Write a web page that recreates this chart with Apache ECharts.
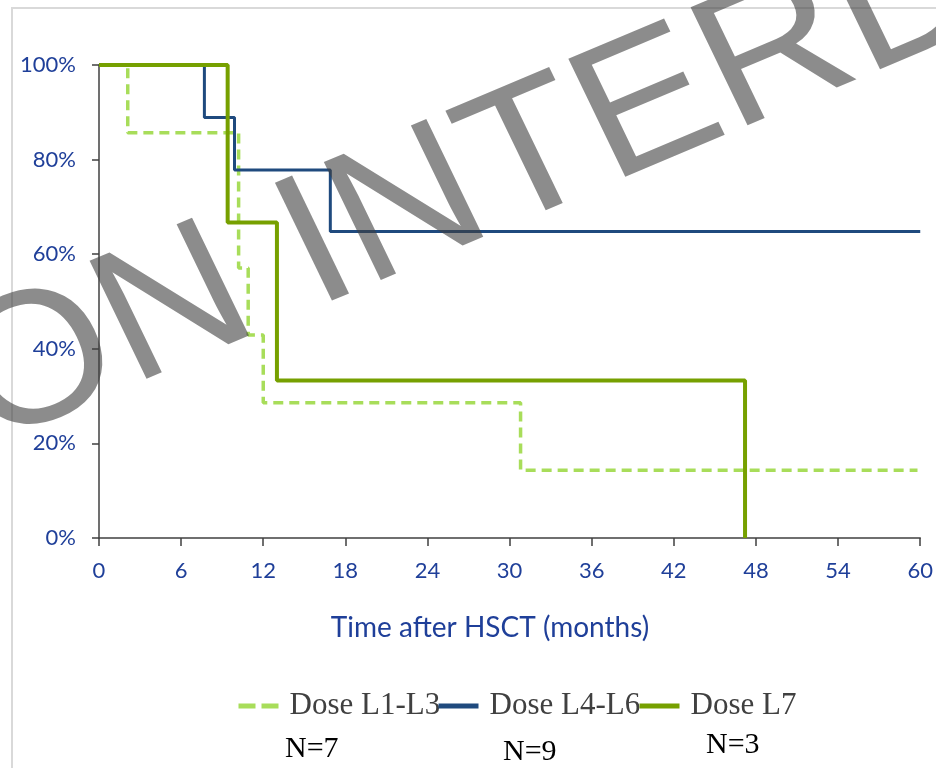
<!DOCTYPE html>
<html>
<head>
<meta charset="utf-8">
<script src="https://cdn.jsdelivr.net/npm/echarts@6/dist/echarts.min.js"></script>
<style>
html,body{margin:0;padding:0;background:#fff;}
#chart{width:936px;height:768px;}
</style>
</head>
<body>
<div id="chart"></div>
<script>
// ---- data ----
var seriesNames = ['Dose L1-L3', 'Dose L4-L6', 'Dose L7'];
var groupN = ['N=7', 'N=9', 'N=3'];
var doseL1L3Times = [0, 2.1, 10.2, 10.9, 12.0, 30.8, 59.8];
var doseL1L3Surv  = [100, 85.7, 57.1, 42.9, 28.6, 14.3, 14.3];
var doseL4L6Times = [0, 7.7, 9.9, 16.9, 60];
var doseL4L6Surv  = [100, 88.9, 77.8, 64.8, 64.8];
var doseL7Times   = [0, 9.4, 13.0, 47.2];
var doseL7Surv    = [100, 66.7, 33.3, 0];
var xTicks = [0, 6, 12, 18, 24, 30, 36, 42, 48, 54, 60];
var yTicks = [0, 20, 40, 60, 80, 100];
var xTitle = 'Time after HSCT (months)';
var watermark = 'ON INTERD';

function pairs(t, s) { return t.map(function (v, i) { return [v, s[i]]; }); }

var axisBlue = '#1f3f99';
var colors = ['#a8dd5a', '#1f4a7e', '#76a000'];

var chart = echarts.init(document.getElementById('chart'), null, {renderer: 'canvas'});

var legendBase = function (name, left, lineType) {
  return {
    data: [name], left: left, top: 688, orient: 'horizontal', padding: 0,
    itemWidth: 40, itemHeight: 14,
    itemStyle: {opacity: 0},
    lineStyle: {width: 5, type: lineType},
    textStyle: {fontFamily: '"Liberation Serif", serif', fontSize: 31, color: '#404040', padding: [0, 0, 0, 6], lineHeight: 36},
    selectedMode: false
  };
};

var theta = 24.3 * Math.PI / 180;

var option = {
  backgroundColor: '#ffffff',
  animation: false,
  grid: {left: 99, right: 15, top: 65, bottom: 230, containLabel: false},
  xAxis: {
    type: 'value', min: xTicks[0], max: xTicks[xTicks.length - 1], interval: 6,
    axisLine: {lineStyle: {color: '#404040', width: 1.5}},
    axisTick: {show: true, inside: false, length: 8, lineStyle: {color: '#404040', width: 1.5}},
    axisLabel: {margin: 22, fontFamily: 'Lato', fontSize: 22, color: axisBlue},
    splitLine: {show: false}
  },
  yAxis: {
    type: 'value', min: yTicks[0], max: yTicks[yTicks.length - 1], interval: 20,
    axisLine: {show: true, lineStyle: {color: '#404040', width: 1.5}},
    axisTick: {show: true, inside: false, length: 7, lineStyle: {color: '#404040', width: 1.5}},
    axisLabel: {margin: 23, fontFamily: 'Lato', fontSize: 22, color: axisBlue, formatter: '{value}%'},
    splitLine: {show: false}
  },
  legend: [
    legendBase(seriesNames[0], 236, [17, 6]),
    legendBase(seriesNames[1], 436, 'solid'),
    legendBase(seriesNames[2], 637, 'solid')
  ],
  series: [
    {name: seriesNames[0], type: 'line', step: 'end', showSymbol: false, symbol: 'none',
     data: pairs(doseL1L3Times, doseL1L3Surv), z: 2,
     lineStyle: {color: colors[0], width: 3.5, type: [10, 6]}, itemStyle: {color: colors[0]}},
    {name: seriesNames[1], type: 'line', step: 'end', showSymbol: false, symbol: 'none',
     data: pairs(doseL4L6Times, doseL4L6Surv), z: 3,
     lineStyle: {color: colors[1], width: 3}, itemStyle: {color: colors[1]}},
    {name: seriesNames[2], type: 'line', step: 'end', showSymbol: false, symbol: 'none',
     data: pairs(doseL7Times, doseL7Surv), z: 4,
     lineStyle: {color: colors[2], width: 4}, itemStyle: {color: colors[2]}}
  ],
  graphic: [
    {type: 'rect', shape: {x: 12, y: 8, width: 1000, height: 1000}, z: -10, silent: true,
     style: {fill: null, stroke: '#d9d9d9', lineWidth: 2}},
    {type: 'text', x: 490, y: 628, silent: true,
     style: {text: xTitle, font: '28px Lato', fill: axisBlue, align: 'center', verticalAlign: 'middle'}},
    {type: 'text', left: 285, top: 734, style: {text: groupN[0], font: '30px "Liberation Serif"', fill: '#000'}},
    {type: 'text', left: 503, top: 737, style: {text: groupN[1], font: '30px "Liberation Serif"', fill: '#000'}},
    {type: 'text', left: 706, top: 730, style: {text: groupN[2], font: '30px "Liberation Serif"', fill: '#000'}},
    {type: 'group', x: -5, y: 0, scaleX: 1.07, z: 100, silent: true,
     children: [
       {type: 'text', x: -27, y: 398, rotation: theta, z: 100, silent: true,
        style: {text: watermark, font: '188px "Liberation Sans"', fill: 'rgba(64,64,64,0.6)', align: 'left', verticalAlign: 'middle'}}
     ]}
  ]
};
chart.setOption(option);
</script>
</body>
</html>
